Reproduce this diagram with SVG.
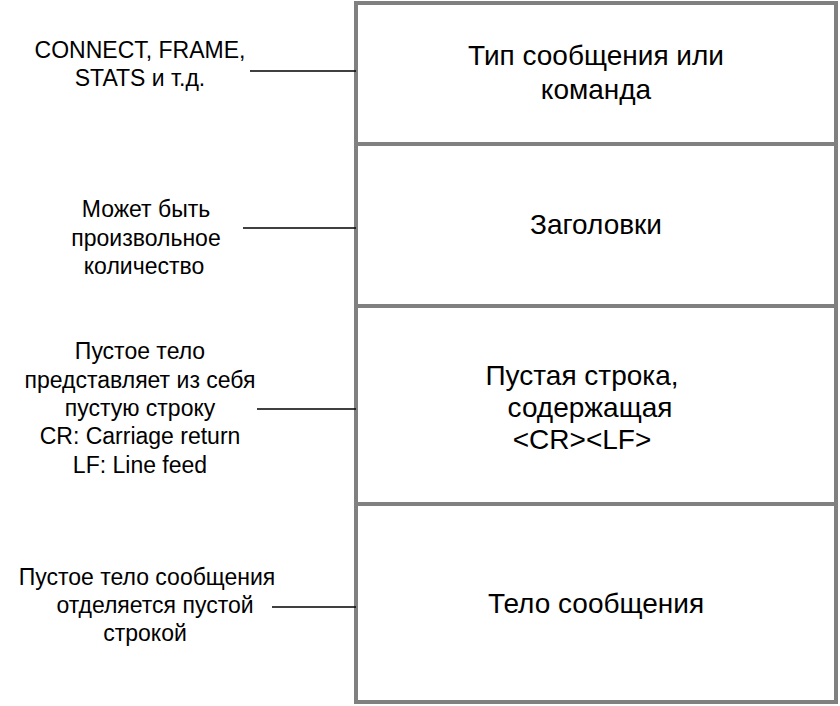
<svg xmlns="http://www.w3.org/2000/svg" width="840" height="706" viewBox="0 0 840 706">
<style>
.box{fill:#fff;stroke:#808080;stroke-width:4}
.lbl{font-family:"Liberation Sans",Arial,sans-serif;font-size:23px;text-anchor:middle;fill:#000}
.big{font-family:"Liberation Sans",Arial,sans-serif;font-size:28px;text-anchor:middle;fill:#000}
.ln{stroke:#000;stroke-width:1.5}
</style>
<rect width="840" height="706" fill="#fff"/>
<g id="n1"><rect class="box" x="356" y="3" width="480" height="141"/>
<text class="big" x="596" y="65">Тип сообщения или</text><text class="big" x="596" y="99">команда</text></g>
<g id="n2"><rect class="box" x="356" y="144" width="480" height="162"/>
<text class="big" x="596" y="234">Заголовки</text></g>
<g id="n3"><rect class="box" x="356" y="306" width="480" height="198"/>
<text class="big" x="582" y="385">Пустая строка,</text><text class="big" x="590" y="417">содержащая</text><text class="big" x="582" y="449">&lt;CR&gt;&lt;LF&gt;</text></g>
<g id="n4"><rect class="box" x="356" y="504" width="480" height="198"/>
<text class="big" x="596" y="613">Тело сообщения</text></g>
<g id="t1"><text class="lbl" x="140" y="58">CONNECT, FRAME,</text><text class="lbl" x="140" y="86">STATS и т.д.</text></g>
<g id="t2"><text class="lbl" x="146" y="217">Может быть</text><text class="lbl" x="146" y="246">произвольное</text><text class="lbl" x="144" y="274">количество</text></g>
<g id="t3"><text class="lbl" x="140" y="359">Пустое тело</text><text class="lbl" x="140" y="388">представляет из себя</text><text class="lbl" x="140" y="416">пустую строку</text><text class="lbl" x="140" y="444">CR: Carriage return</text><text class="lbl" x="140" y="473">LF: Line feed</text></g>
<g id="t4"><text class="lbl" x="147" y="585">Пустое тело сообщения</text><text class="lbl" x="155" y="613">отделяется пустой</text><text class="lbl" x="145" y="641">строкой</text></g>
<g id="connectors">
<line class="ln" x1="250" y1="71" x2="356" y2="71"/>
<line class="ln" x1="243" y1="228" x2="356" y2="228"/>
<line class="ln" x1="257" y1="409" x2="356" y2="409"/>
<line class="ln" x1="272" y1="607" x2="356" y2="607"/>
</g>
</svg>
